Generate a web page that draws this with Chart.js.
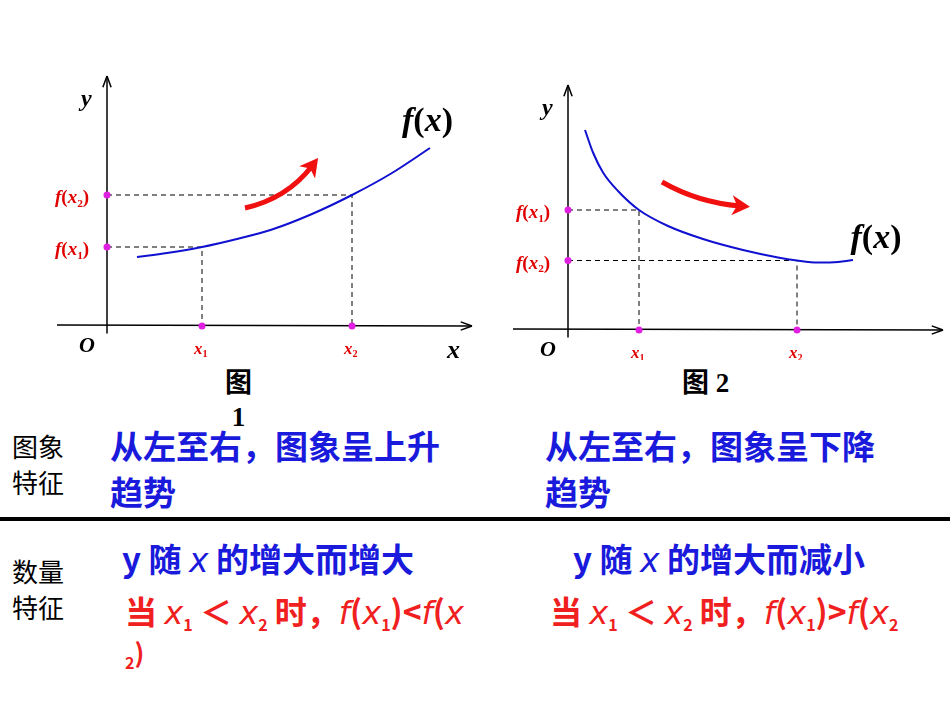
<!DOCTYPE html><html><head><meta charset="utf-8">
<script src="https://cdn.jsdelivr.net/npm/chart.js@4"></script>
<style>
body{margin:0;width:950px;height:713px;background:#fff;position:relative;overflow:hidden;font-family:"Noto Sans CJK SC",sans-serif}
canvas{position:absolute}
.t{position:absolute;white-space:nowrap}
.k{font-size:26px;line-height:36px;color:#000}
.b{font-size:33px;font-weight:bold;color:#1a1adc;line-height:46px}
.r{font-size:32px;font-weight:bold;color:#f02020;line-height:44px}
i{font-family:"DejaVu Sans";font-weight:normal}
sub{font-size:16px}
</style></head><body>
<div style="position:absolute;left:0;top:60px;width:480px;height:300px"><canvas id="c1"></canvas></div>
<div style="position:absolute;left:480px;top:60px;width:470px;height:300px"><canvas id="c2"></canvas></div>
<div class="t" style="left:225px;top:366px;font-size:27px;font-weight:bold;font-family:'Liberation Serif','Noto Sans CJK SC';line-height:34px">图<br>&nbsp;1</div>
<div class="t" style="left:682px;top:366px;font-size:27px;font-weight:bold;font-family:'Liberation Serif','Noto Sans CJK SC';line-height:34px">图 2</div>
<div class="t k" style="left:12px;top:428px">图象<br>特征</div>
<div class="t b" style="left:110px;top:422px">从左至右，图象呈上升<br>趋势</div>
<div class="t b" style="left:545px;top:422px">从左至右，图象呈下降<br>趋势</div>
<div style="position:absolute;left:0;top:517px;width:950px;height:4px;background:#000"></div>
<div class="t k" style="left:12px;top:553px">数量<br>特征</div>
<div class="t b" style="left:122px;top:535px">y 随 <i>x</i> 的增大而增大</div>
<div class="t b" style="left:573px;top:535px">y 随 <i>x</i> 的增大而减小</div>
<div class="t r" style="left:125px;top:588px;width:425px;overflow:hidden">当 <i>x</i><sub>1</sub> ＜ <i>x</i><sub>2</sub> 时，<i>f</i>(<i>x</i><sub>1</sub>)&lt;<i>f</i>(<i>x</i></div>
<div class="t r" style="left:125px;top:630px;font-size:26px"><sub>2</sub>)</div>
<div class="t r" style="left:550px;top:588px;width:400px;overflow:hidden">当 <i>x</i><sub>1</sub> ＜ <i>x</i><sub>2</sub> 时，<i>f</i>(<i>x</i><sub>1</sub>)&gt;<i>f</i>(<i>x</i><sub>2</sub></div>
<script>
const incX=[0.6,1.2,1.9,2.6,3.3,4.1,4.9,5.7,6.46];
const incY=[1.38,1.46,1.58,1.74,1.93,2.24,2.62,3.06,3.56];
const decX=[0.34,0.5,0.7,1.0,1.42,2.0,2.7,3.5,4.2,4.58,5.0,5.4,5.7];
const decY=[4.0,3.55,3.15,2.78,2.4,2.08,1.82,1.6,1.45,1.39,1.35,1.36,1.4];
const pts1={x:[1.9,4.9],y:[1.58,2.62]};
const pts2={x:[1.42,4.58],y:[2.4,1.39]};

function txt(ctx,parts,x,y,color,size){
  ctx.fillStyle=color;ctx.textBaseline='alphabetic';
  for(const p of parts){
    const s=p.sub?size*0.6:size;
    ctx.font=(p.it?'italic ':'')+'bold '+s+'px "Liberation Serif"';
    ctx.fillText(p.t,x,y+(p.sub?size*0.2:0));x+=ctx.measureText(p.t).width;
  }
}
const F=(n)=>[{t:'f',it:1},{t:'('},{t:'x',it:1},{t:n,sub:1},{t:')'}];
function arrowLine(ctx,x0,y0,x1,y1){
  ctx.beginPath();ctx.moveTo(x0,y0);ctx.lineTo(x1,y1);ctx.stroke();
  const a=Math.atan2(y1-y0,x1-x0);ctx.beginPath();
  ctx.moveTo(x1,y1);ctx.lineTo(x1-12*Math.cos(a-0.35),y1-12*Math.sin(a-0.35));
  ctx.moveTo(x1,y1);ctx.lineTo(x1-12*Math.cos(a+0.35),y1-12*Math.sin(a+0.35));ctx.stroke();
}
function mk(id,xs,ys,pts,xr,yr,cfg){
  const plug={id:'deco',beforeDatasetsDraw(c){
    const ctx=c.ctx,X=c.scales.x,Y=c.scales.y,ox=X.getPixelForValue(0),oy=Y.getPixelForValue(0);
    ctx.save();ctx.strokeStyle='#000';ctx.lineWidth=1.5;
    arrowLine(ctx,X.getPixelForValue(cfg.xa[0]),oy+cfg.tilt,X.getPixelForValue(cfg.xa[1]),oy);
    arrowLine(ctx,ox,Y.getPixelForValue(-0.15),ox,Y.getPixelForValue(cfg.ya));
    ctx.setLineDash([5,4]);ctx.lineWidth=1;
    for(let i=0;i<2;i++){const px=X.getPixelForValue(pts.x[i]),py=Y.getPixelForValue(pts.y[i]);
      ctx.beginPath();ctx.moveTo(ox,py);ctx.lineTo(px,py);ctx.lineTo(px,oy);ctx.stroke();}
    ctx.setLineDash([]);
    for(let i=0;i<2;i++){const px=X.getPixelForValue(pts.x[i]),py=Y.getPixelForValue(pts.y[i]);
      [[px,oy],[ox,py]].forEach(p=>{ctx.fillStyle='#e020e0';ctx.beginPath();ctx.arc(p[0],p[1],3.5,0,7);ctx.fill();});
      txt(ctx,[{t:'x',it:1},{t:String(i+1),sub:1}],px-8,oy+28,'#e00000',17);
      txt(ctx,F(String(i+1)),ox-52,py+8,'#e00000',19);}
    txt(ctx,[{t:'O',it:1}],ox-28,oy+26,'#000',22);
    txt(ctx,[{t:'y',it:1}],ox-26,Y.getPixelForValue(cfg.ya)+30,'#000',24);
    if(cfg.xl)txt(ctx,[{t:'x',it:1}],X.getPixelForValue(cfg.xa[1])-25,oy+32,'#000',26);
    txt(ctx,F(''),X.getPixelForValue(cfg.fl[0]),Y.getPixelForValue(cfg.fl[1]),'#000',34);
    const a=cfg.ar.map(p=>[X.getPixelForValue(p[0]),Y.getPixelForValue(p[1])]);
    ctx.strokeStyle='#f01010';ctx.lineWidth=5;ctx.beginPath();ctx.moveTo(a[0][0],a[0][1]);
    ctx.quadraticCurveTo(a[1][0],a[1][1],a[2][0],a[2][1]);ctx.stroke();
    const an=Math.atan2(a[2][1]-a[1][1],a[2][0]-a[1][0]);ctx.fillStyle='#f01010';ctx.beginPath();
    ctx.moveTo(a[2][0]+10*Math.cos(an),a[2][1]+10*Math.sin(an));
    ctx.lineTo(a[2][0]-8*Math.cos(an)+10*Math.sin(an),a[2][1]-8*Math.sin(an)-10*Math.cos(an));
    ctx.lineTo(a[2][0]-3*Math.cos(an),a[2][1]-3*Math.sin(an));
    ctx.lineTo(a[2][0]-8*Math.cos(an)-10*Math.sin(an),a[2][1]-8*Math.sin(an)+10*Math.cos(an));
    ctx.closePath();ctx.fill();ctx.restore();}};
  new Chart(document.getElementById(id),{type:'scatter',
    data:{datasets:[{data:xs.map((x,i)=>({x,y:ys[i]})),showLine:true,cubicInterpolationMode:'monotone',borderColor:'#1010d0',borderWidth:2,pointRadius:0}]},
    options:{responsive:true,maintainAspectRatio:false,animation:false,layout:{padding:0},
      plugins:{legend:{display:false},tooltip:{enabled:false}},
      scales:{x:{type:'linear',display:false,min:xr[0],max:xr[1]},y:{type:'linear',display:false,min:yr[0],max:yr[1]}}},
    plugins:[plug]});
}
mk('c1',incX,incY,pts1,[-2.14,7.46],[-0.68,5.32],{xa:[-1.0,7.3],tilt:-1,ya:5.0,xl:1,fl:[5.9,3.9],
  ar:[[2.76,2.36],[3.6,2.55],[4.1,3.2]]});
mk('c2',decX,decY,pts2,[-1.76,7.64],[-0.6,5.4],{xa:[-1.1,7.5],tilt:-1,ya:4.9,xl:0,fl:[5.65,1.65],
  ar:[[1.88,2.96],[2.6,2.55],[3.44,2.48]]});
</script></body></html>
